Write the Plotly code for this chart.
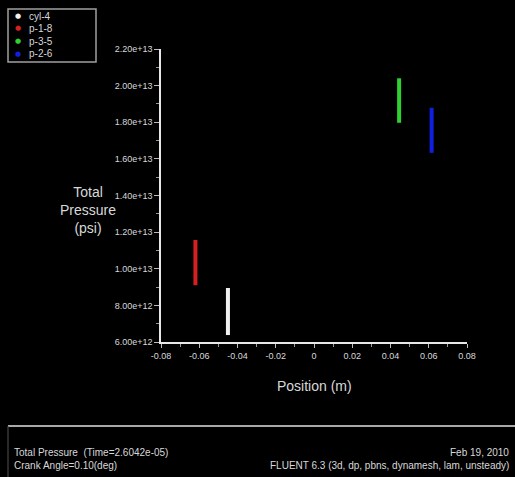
import plotly.graph_objects as go

# Surface data: position (m) and total pressure (psi) at each surface
series_names = ["cyl-4", "p-1-8", "p-3-5", "p-2-6"]
series_colors = ["#f0f0f0", "#d42020", "#30d030", "#1020e0"]
series_x = [-0.045, -0.062, 0.0445, 0.0615]
series_y = [
    [6.38e12, 6.9e12, 7.5e12, 8.1e12, 8.6e12, 8.95e12],
    [9.1e12, 9.6e12, 1.02e13, 1.08e13, 1.13e13, 1.157e13],
    [1.797e13, 1.85e13, 1.91e13, 1.96e13, 2.01e13, 2.04e13],
    [1.633e13, 1.69e13, 1.75e13, 1.80e13, 1.85e13, 1.879e13],
]

x_ticks = [-0.08, -0.06, -0.04, -0.02, 0, 0.02, 0.04, 0.06, 0.08]
x_tick_text = ["-0.08", "-0.06", "-0.04", "-0.02", "0", "0.02", "0.04", "0.06", "0.08"]
y_ticks = [6e12, 8e12, 1e13, 1.2e13, 1.4e13, 1.6e13, 1.8e13, 2e13, 2.2e13]
y_tick_text = ["6.00e+12", "8.00e+12", "1.00e+13", "1.20e+13", "1.40e+13",
               "1.60e+13", "1.80e+13", "2.00e+13", "2.20e+13"]

FONT = "Liberation Sans Narrow, Liberation Sans, sans-serif"
TXT = "#d8d8d8"

fig = go.Figure()
for name, color, x, ys in zip(series_names, series_colors, series_x, series_y):
    fig.add_trace(go.Scatter(
        x=[x] * len(ys), y=ys, name=name, mode="lines",
        line=dict(color=color, width=4),
        showlegend=False,
    ))

fig.update_layout(
    width=515, height=477,
    paper_bgcolor="black", plot_bgcolor="black",
    margin=dict(l=161, r=48, t=49, b=135),
    font=dict(family=FONT, color=TXT, size=9),
    xaxis=dict(
        range=[-0.08, 0.08], tickvals=x_ticks, ticktext=x_tick_text,
        showgrid=False, zeroline=False, showline=True, linecolor="#e8e8e8",
        linewidth=1.5, ticks="outside", ticklen=4, tickcolor="#bbbbbb",
        minor=dict(dtick=0.01, ticks="outside", ticklen=3, tickcolor="#999999"),
        tickfont=dict(size=9, color=TXT),
    ),
    yaxis=dict(
        range=[6e12, 2.2e13], tickvals=y_ticks, ticktext=y_tick_text,
        showgrid=False, zeroline=False, showline=True, linecolor="#e8e8e8",
        linewidth=1.5, ticks="outside", ticklen=5, tickcolor="#bbbbbb",
        minor=dict(dtick=1e12, ticks="outside", ticklen=3, tickcolor="#999999"),
        tickfont=dict(size=9, color=TXT),
    ),
)

# Axis titles
fig.add_annotation(xref="paper", yref="paper", x=0.5, y=-0.115, yanchor="top",
                   text="Position (m)", showarrow=False,
                   font=dict(size=14, color=TXT, family=FONT))
fig.add_annotation(xref="paper", yref="paper", x=-0.24, y=0.45, xanchor="center",
                   yanchor="middle", align="center",
                   text="Total<br>Pressure<br>(psi)", showarrow=False,
                   font=dict(size=14, color=TXT, family=FONT))

# Legend box with colored dots
fig.add_shape(type="rect", xref="paper", yref="paper",
              x0=(8 - 161) / 306, x1=(96 - 161) / 306,
              y0=(342 - 62) / 293, y1=(342 - 9) / 293,
              line=dict(color="#a0a0a0", width=1.5), fillcolor="black")
for i, (name, color) in enumerate(zip(series_names, series_colors)):
    ypix = 16 + 12.5 * i
    yp = (342 - ypix) / 293
    fig.add_annotation(xref="paper", yref="paper", x=(18 - 161) / 306, y=yp,
                       text="●", showarrow=False, xanchor="center", yanchor="middle",
                       font=dict(size=7, color=color, family="DejaVu Sans"))
    fig.add_annotation(xref="paper", yref="paper", x=(27 - 161) / 306, y=yp,
                       text=name, showarrow=False, xanchor="left", yanchor="middle",
                       font=dict(size=10, color=TXT, family=FONT))

# Footer frame
fig.add_shape(type="line", xref="paper", yref="paper",
              x0=(8 - 161) / 306, x1=(515 - 161) / 306,
              y0=(342 - 426) / 293, y1=(342 - 426) / 293,
              line=dict(color="#a8a8a8", width=2))
fig.add_shape(type="line", xref="paper", yref="paper",
              x0=(8 - 161) / 306, x1=(8 - 161) / 306,
              y0=(342 - 426) / 293, y1=(342 - 477) / 293,
              line=dict(color="#505050", width=1))

footer = [
    ("Total Pressure  (Time=2.6042e-05)", 12, 452, "left"),
    ("Crank Angle=0.10(deg)", 12, 465, "left"),
    ("Feb 19, 2010", 511, 452, "right"),
    ("FLUENT 6.3 (3d, dp, pbns, dynamesh, lam, unsteady)", 511, 465, "right"),
]
for text, xp, yp, anchor in footer:
    fig.add_annotation(xref="paper", yref="paper", x=(xp - 161) / 306,
                       y=(342 - yp) / 293, text=text, showarrow=False,
                       xanchor=anchor, yanchor="middle",
                       font=dict(size=10, color=TXT, family=FONT))

fig.write_html("out.html")
